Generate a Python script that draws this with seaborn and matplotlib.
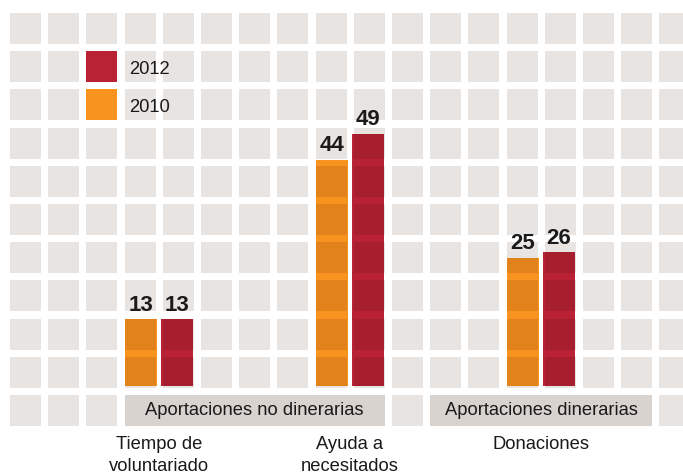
import numpy as np
import pandas as pd
import matplotlib
matplotlib.use("Agg")
import matplotlib.pyplot as plt
import matplotlib.transforms as mtransforms
from matplotlib.patches import Rectangle
from matplotlib.collections import PatchCollection
from matplotlib.colors import to_rgb
import seaborn as sns

# ---- data -------------------------------------------------------------
categories = ["Tiempo de\nvoluntariado", "Ayuda a\nnecesitados", "Donaciones"]
years = ["2010", "2012"]
values_2010 = [13, 44, 25]
values_2012 = [13, 49, 26]
group_labels = ["Aportaciones no dinerarias", "Aportaciones dinerarias"]
group_columns = [(3, 9), (11, 16)]  # first/last tile column under each group band

# ---- style ------------------------------------------------------------
ORANGE = "#F7931E"
RED = "#B82234"
TILE = "#E8E4E1"
BAND = "#D9D3CF"
INK = "#1A1A1A"

W, H, DPI = 683, 474, 100
PITCH, TILE_SIZE = 38.2, 31.0
X0, Y0 = 10.0, 13.0
NCOL, NROW = 18, 11
BASE = 386.3          # bar baseline, pixels from the top
PX_PER_UNIT = 5.15
CAT_X0, CAT_STEP = 159.0, 191.0

sns.set_style("white")
plt.rcParams["font.family"] = ["Liberation Sans", "DejaVu Sans"]

df = pd.DataFrame({
    "categoria": categories * 2,
    "año": [years[0]] * 3 + [years[1]] * 3,
    "valor": values_2010 + values_2012,
})

fig = plt.figure(figsize=(W / DPI, H / DPI), dpi=DPI)
ax = fig.add_axes([0, (H - BASE) / H, 1, BASE / H])
ax.patch.set_alpha(0)

# pixel coordinates with the origin at the top-left corner
pix = mtransforms.Affine2D().scale(1 / DPI, -1 / DPI).translate(0, H / DPI) + fig.dpi_scale_trans


def tiles():
    return [Rectangle((X0 + c * PITCH, Y0 + r * PITCH), TILE_SIZE, TILE_SIZE)
            for r in range(NROW) for c in range(NCOL)]


# background tile grid
grid = PatchCollection(tiles(), facecolor=TILE, edgecolor="none", linewidth=0,
                       transform=pix, zorder=0)
ax.add_collection(grid, autolim=False)
grid.set_clip_on(False)

sns.barplot(data=df, x="categoria", y="valor", hue="año", hue_order=years,
            palette=[ORANGE, RED], saturation=1, width=0.377, gap=0.11,
            linewidth=0, legend=False, ax=ax, zorder=2)

# bars blend (multiply) with the tiles beneath them
tile_rgb = np.array(to_rgb(TILE))
for bar in list(ax.patches):
    dark = np.array(to_rgb(bar.get_facecolor())) * tile_rgb
    shade = PatchCollection(tiles(), facecolor=dark, edgecolor="none", linewidth=0,
                            transform=pix, zorder=2.1)
    ax.add_collection(shade, autolim=False)
    shade.set_clip_path(bar)

for cont in ax.containers:
    ax.bar_label(cont, fmt="%g", padding=2.5, fontsize=16, fontweight="bold", color=INK)

# group bands on the bottom row of tiles
for label, (c0, c1) in zip(group_labels, group_columns):
    x_left = X0 + c0 * PITCH
    x_right = X0 + c1 * PITCH + TILE_SIZE
    y_top = Y0 + (NROW - 1) * PITCH
    band = Rectangle((x_left, y_top), x_right - x_left, TILE_SIZE, facecolor=BAND,
                     edgecolor="none", transform=pix, zorder=1, clip_on=False)
    ax.add_patch(band)
    ax.text((x_left + x_right) / 2, y_top + TILE_SIZE / 2, label, transform=pix,
            ha="center", va="center", fontsize=13.2, color=INK)

# legend swatches sit on tiles of the third column
for i, (year, color) in enumerate([(years[1], RED), (years[0], ORANGE)]):
    y_top = Y0 + (1 + i) * PITCH
    ax.add_patch(Rectangle((X0 + 2 * PITCH, y_top), TILE_SIZE, TILE_SIZE,
                           facecolor=color, edgecolor="none", transform=pix,
                           zorder=3, clip_on=False))
    ax.text(X0 + 2 * PITCH + TILE_SIZE + 12, y_top + TILE_SIZE / 2 + 0.5, year,
            transform=pix, ha="left", va="center_baseline", fontsize=13.2, color=INK)

ax.set_xlim(-CAT_X0 / CAT_STEP, (W - CAT_X0) / CAT_STEP)
ax.set_ylim(0, BASE / PX_PER_UNIT)
ax.set_xticks(range(len(categories)))
ax.set_xticklabels(categories)
ax.tick_params(axis="x", length=0, pad=35.5, labelsize=13.2, colors=INK)
for lbl in ax.get_xticklabels():
    lbl.set_linespacing(1.38)
ax.set_yticks([])
ax.set_xlabel("")
ax.set_ylabel("")
for s in ax.spines.values():
    s.set_visible(False)

fig.savefig("out.png", dpi=DPI)
